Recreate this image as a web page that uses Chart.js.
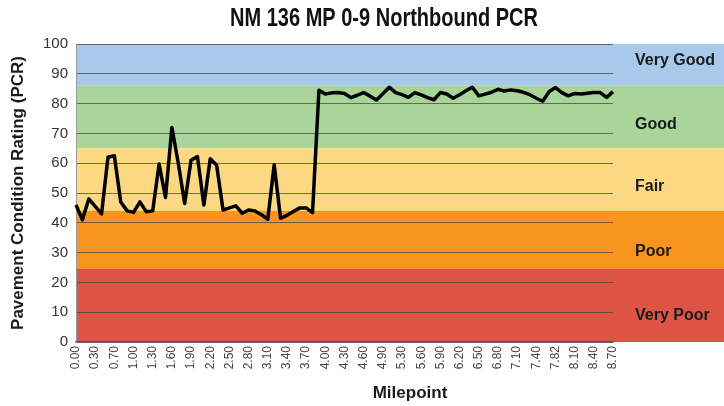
<!DOCTYPE html>
<html>
<head>
<meta charset="utf-8">
<title>NM 136 MP 0-9 Northbound PCR</title>
<script src="https://cdn.jsdelivr.net/npm/chart.js@4/dist/chart.umd.min.js"></script>
<style>
  html, body { margin: 0; padding: 0; background: #fff; }
  #wrap { width: 724px; height: 406px; }
</style>
</head>
<body>
<div id="wrap"><canvas id="chart" width="724" height="406"></canvas></div>
<script>
'use strict';

var chartTitle = 'NM 136 MP 0-9 Northbound PCR';

// milepoints along the route (every third one is labelled on the axis)
var milepoints = [
  '0.00', '0.10', '0.20', '0.30', '0.40', '0.50', '0.70', '0.80', '0.90', '1.00',
  '1.10', '1.20', '1.30', '1.40', '1.50', '1.60', '1.70', '1.80', '1.90', '2.00',
  '2.10', '2.20', '2.30', '2.40', '2.50', '2.60', '2.70', '2.80', '2.90', '3.00',
  '3.10', '3.20', '3.30', '3.40', '3.50', '3.60', '3.70', '3.80', '3.90', '4.00',
  '4.10', '4.20', '4.30', '4.40', '4.50', '4.60', '4.70', '4.80', '4.90', '5.00',
  '5.20', '5.30', '5.40', '5.50', '5.60', '5.70', '5.80', '5.90', '6.00', '6.10',
  '6.20', '6.30', '6.40', '6.50', '6.60', '6.70', '6.80', '6.90', '7.00', '7.10',
  '7.20', '7.30', '7.40', '7.50', '7.70', '7.82', '7.90', '8.00', '8.10', '8.20',
  '8.30', '8.40', '8.50', '8.60', '8.70'
];

var pcrValues = [
  46, 41, 48, 45.5, 43, 62, 62.5, 47, 44, 43.5,
  47, 43.7, 44, 59.7, 48.5, 72, 60, 46.5, 61, 62.2,
  46, 61.5, 59.3, 44.3, 45, 45.7, 43.2, 44.3, 44, 42.7,
  41.2, 59.5, 41.5, 42.5, 43.8, 45, 45, 43.4, 84.5, 83.2,
  83.6, 83.7, 83.4, 82, 82.8, 83.7, 82.5, 81.2, 83.3, 85.5,
  83.7, 83, 82.1, 83.7, 82.9, 82, 81.3, 83.7, 83.2, 81.8,
  83, 84.3, 85.5, 82.6, 83.2, 83.8, 84.8, 84.2, 84.6, 84.3,
  83.8, 83, 81.8, 80.8, 84, 85.4, 83.7, 82.6, 83.4, 83.2,
  83.5, 83.7, 83.7, 82.1, 84
];

// condition bands
var bandNames = ['Very Good', 'Good', 'Fair', 'Poor', 'Very Poor'];
var bandTops = [100, 86, 65, 44, 24.5];
var bandBottoms = [86, 65, 44, 24.5, 0];

var bandColors = ['#a9c9ea', '#a9d59a', '#fdd883', '#f7951f', '#de5546'];
var bandLabelOffsets = [-4, 8, 7, 12, 10];

var bandsPlugin = {
  id: 'bands',
  beforeDraw: function(chart) {
    var ctx = chart.ctx;
    var y = chart.scales.y;
    var area = chart.chartArea;
    ctx.save();
    ctx.fillStyle = '#ffffff';
    ctx.fillRect(0, 0, chart.width, chart.height);
    for (var i = 0; i < bandNames.length; i++) {
      var top = y.getPixelForValue(bandTops[i]);
      var bottom = y.getPixelForValue(bandBottoms[i]);
      ctx.fillStyle = bandColors[i];
      ctx.fillRect(area.left, top, chart.width - area.left, bottom - top);
    }
    ctx.restore();
  },
  afterDraw: function(chart) {
    var ctx = chart.ctx;
    var y = chart.scales.y;
    var area = chart.chartArea;
    ctx.save();
    ctx.fillStyle = '#1a1a1a';
    ctx.textBaseline = 'middle';
    ctx.textAlign = 'left';
    ctx.font = 'bold 16px "Liberation Sans", Arial, sans-serif';
    for (var i = 0; i < bandNames.length; i++) {
      var mid = (y.getPixelForValue(bandTops[i]) + y.getPixelForValue(bandBottoms[i])) / 2;
      ctx.fillText(bandNames[i], area.right + 22, mid + bandLabelOffsets[i]);
    }
    // x axis title
    ctx.textAlign = 'center';
    ctx.font = 'bold 17px "Liberation Sans", Arial, sans-serif';
    ctx.fillText('Milepoint', 410, 393);
    // chart title, squeezed like a condensed face
    ctx.fillStyle = '#111';
    ctx.font = 'bold 26px "Liberation Sans", Arial, sans-serif';
    var w = ctx.measureText(chartTitle).width;
    var sx = 308 / w;
    ctx.translate(384, 19);
    ctx.scale(sx, 1);
    ctx.fillText(chartTitle, 0, 0);
    ctx.restore();
  }
};

var ctx = document.getElementById('chart').getContext('2d');

var chartData = {
  type: 'line',
  data: {
    labels: milepoints,
    datasets: [{
      label: 'PCR',
      data: pcrValues,
      borderColor: '#000',
      borderWidth: 3.5,
      borderJoinStyle: 'round',
      pointRadius: 0,
      tension: 0,
      fill: false
    }]
  },
  options: {
    responsive: false,
    animation: false,
    devicePixelRatio: 1,
    layout: { padding: { top: 44, right: 111, bottom: 0, left: 0 } },
    plugins: {
      legend: { display: false },
      tooltip: { enabled: false },
      title: { display: false }
    },
    scales: {
      x: {
        type: 'category',
        offset: false,
        afterFit: function(scale) { scale.height = 64; },
        grid: { display: false, drawTicks: false },
        border: { display: true, color: '#555', width: 1.5 },
        ticks: {
          autoSkip: false,
          minRotation: 90,
          maxRotation: 90,
          padding: 4,
          color: '#444',
          font: { family: '"Liberation Sans", Arial, sans-serif', size: 12 },
          callback: function(value, index) {
            return index % 3 === 0 ? milepoints[index] : '';
          }
        }
      },
      y: {
        min: 0,
        max: 100,
        afterFit: function(scale) { scale.width = 76; },
        grid: { color: 'rgba(70,70,70,0.75)', lineWidth: 1, drawTicks: false },
        border: { display: true, color: '#999', width: 1 },
        ticks: {
          stepSize: 10,
          padding: 8,
          color: '#333',
          font: { family: '"Liberation Sans", Arial, sans-serif', size: 15 }
        },
        title: {
          display: true,
          text: 'Pavement Condition Rating (PCR)',
          color: '#1a1a1a',
          padding: { top: 8, bottom: 4 },
          font: { family: '"Liberation Sans", Arial, sans-serif', size: 17, weight: 'bold' }
        }
      }
    }
  },
  plugins: [bandsPlugin]
};

var chart = new Chart(ctx, chartData);
</script>
</body>
</html>
